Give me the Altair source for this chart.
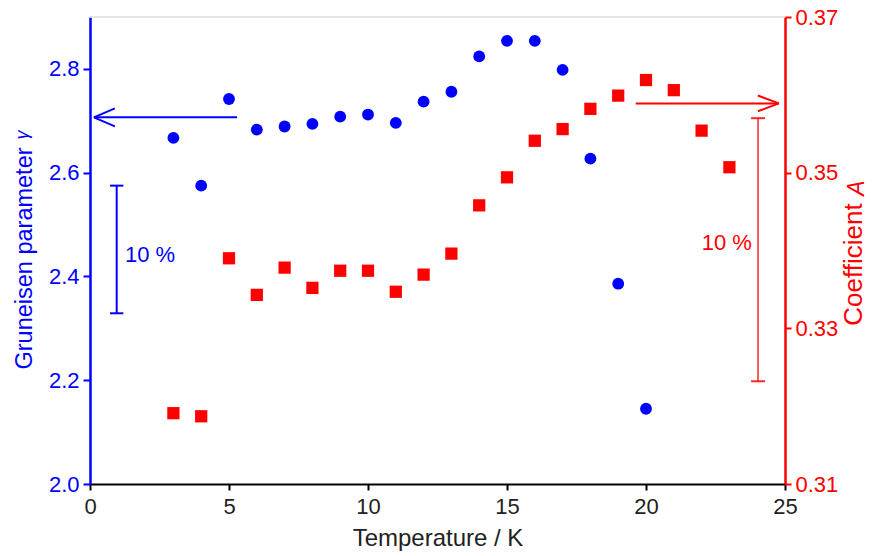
import altair as alt
import pandas as pd

# ---- data ----
temp_gamma = [3, 4, 5, 6, 7, 8, 9, 10, 11, 12, 13, 14, 15, 16, 17, 18, 19, 20]
gamma = [2.667, 2.575, 2.742, 2.683, 2.689, 2.694, 2.708, 2.712, 2.696, 2.737,
         2.756, 2.824, 2.854, 2.854, 2.798, 2.627, 2.386, 2.145]
temp_A = [3, 4, 5, 6, 7, 8, 9, 10, 11, 12, 13, 14, 15, 16, 17, 18, 19, 20, 21, 22, 23]
coef_A = [0.3191, 0.3187, 0.3390, 0.3343, 0.3378, 0.3352, 0.3374, 0.3374, 0.3347,
          0.3369, 0.3396, 0.3458, 0.3494, 0.3541, 0.3556, 0.3582, 0.3599, 0.3619,
          0.3606, 0.3554, 0.3507]

x_ticks = [0, 5, 10, 15, 20, 25]
gamma_ticks = [2.0, 2.2, 2.4, 2.6, 2.8]
A_ticks = [0.31, 0.33, 0.35, 0.37]

# annotations (data units)
blue_arrow = {"x_from": [5.29], "x_to": [0.14], "y": [2.7067]}
red_arrow = {"x_from": [19.63], "x_to": [24.78], "y": [0.3589]}
blue_bar = {"x": [0.96], "half": [0.24], "y_lo": [2.329], "y_hi": [2.575]}
red_bar = {"x": [24.03], "half": [0.25], "y_lo": [0.3232], "y_hi": [0.3570]}
blue_label = {"x": [1.26], "y": [2.441], "text": ["10 %"]}
red_label = {"x": [23.81], "y": [0.3410], "text": ["10 %"]}

BLUE = "#0000ff"
RED = "#ff0000"
FONT = "Liberation Sans"
FS = 22      # tick labels / annotations
FT = 24      # axis titles

xscale = alt.Scale(domain=[0, 25], nice=False, zero=False)
gscale = alt.Scale(domain=[2.0, 2.9], nice=False, zero=False)
ascale = alt.Scale(domain=[0.31, 0.37], nice=False, zero=False)

x_axis = alt.Axis(values=x_ticks, title="Temperature / K", grid=False,
                  domainColor="black", domainWidth=2, tickColor="black", tickWidth=2,
                  tickSize=6, labelColor="#222", titleColor="#222", labelFlush=False,
                  labelPadding=6, titlePadding=9, labelFontSize=FS, titleFontSize=FT,
                  labelFont=FONT, titleFont=FONT, titleFontWeight="normal")
g_axis = alt.Axis(values=gamma_ticks, format=".1f", title="Gruneisen parameter",
                  orient="left", grid=False, domainColor=BLUE, domainWidth=2.5,
                  tickColor=BLUE, tickWidth=2, tickSize=7, labelColor=BLUE,
                  titleColor=BLUE, labelPadding=4, titlePadding=12, titleY=241,
                  labelFontSize=FS, titleFontSize=23.5, labelFont=FONT, titleFont=FONT,
                  titleFontWeight="normal", labelFlush=False)
a_axis = alt.Axis(values=A_ticks, format=".2f", title="Coefficient",
                  orient="right", grid=False, domainColor=RED, domainWidth=2.5,
                  tickColor=RED, tickWidth=2, tickSize=6, labelColor=RED,
                  titleColor=RED, labelPadding=4, titlePadding=3, titleAngle=270,
                  titleBaseline="top", titleY=247, labelFlush=False,
                  labelFontSize=FS, titleFontSize=26, labelFont=FONT, titleFont=FONT,
                  titleFontWeight="normal")


def X(field):
    return alt.X(field, type="quantitative", scale=xscale, axis=x_axis)


def YG(field):
    return alt.Y(field, type="quantitative", scale=gscale, axis=g_axis)


def YA(field):
    return alt.Y(field, type="quantitative", scale=ascale, axis=a_axis)


df_g = pd.DataFrame({"T": temp_gamma, "g": gamma})
df_a = pd.DataFrame({"T": temp_A, "a": coef_A})

# ---- blue group (left axis) ----
g_points = alt.Chart(df_g).mark_point(filled=True, shape="circle", size=140,
                                      color=BLUE, opacity=1).encode(
    x=X("T"), y=YG("g"))

ba = pd.DataFrame(blue_arrow)
g_arrow_shaft = alt.Chart(ba).mark_rule(color=BLUE, strokeWidth=2).encode(
    x=X("x_from"), x2="x_to:Q", y=YG("y"))
g_arrow_head = alt.Chart(ba).mark_point(
    shape="M0,0 L2,-0.857 M0,0 L2,0.857", size=441, filled=False,
    color=BLUE, strokeWidth=2, opacity=1).encode(x=X("x_to"), y=YG("y"))

bb = pd.DataFrame(blue_bar)
bb["xl"] = bb["x"] - bb["half"]
bb["xr"] = bb["x"] + bb["half"]
g_bar = alt.Chart(bb).mark_rule(color=BLUE, strokeWidth=2).encode(
    x=X("x"), y=YG("y_lo"), y2="y_hi:Q")
g_cap_lo = alt.Chart(bb).mark_rule(color=BLUE, strokeWidth=2).encode(
    x=X("xl"), x2="xr:Q", y=YG("y_lo"))
g_cap_hi = alt.Chart(bb).mark_rule(color=BLUE, strokeWidth=2).encode(
    x=X("xl"), x2="xr:Q", y=YG("y_hi"))
g_text = alt.Chart(pd.DataFrame(blue_label)).mark_text(
    align="left", baseline="middle", color=BLUE, font=FONT, fontSize=FS).encode(
    x=X("x"), y=YG("y"), text="text:N")

blue_group = alt.layer(g_points, g_arrow_shaft, g_arrow_head, g_bar,
                       g_cap_lo, g_cap_hi, g_text)

# ---- red group (right axis) ----
a_points = alt.Chart(df_a).mark_point(filled=True, shape="square", size=150,
                                      color=RED, opacity=1).encode(
    x=X("T"), y=YA("a"))

ra = pd.DataFrame(red_arrow)
a_arrow_shaft = alt.Chart(ra).mark_rule(color=RED, strokeWidth=2).encode(
    x=X("x_from"), x2="x_to:Q", y=YA("y"))
a_arrow_head = alt.Chart(ra).mark_point(
    shape="M0,0 L-2,-0.75 M0,0 L-2,0.75", size=441, filled=False,
    color=RED, strokeWidth=2, opacity=1).encode(x=X("x_to"), y=YA("y"))

rb = pd.DataFrame(red_bar)
rb["xl"] = rb["x"] - rb["half"]
rb["xr"] = rb["x"] + rb["half"]
a_bar = alt.Chart(rb).mark_rule(color=RED, strokeWidth=1.5, opacity=0.85).encode(
    x=X("x"), y=YA("y_lo"), y2="y_hi:Q")
a_cap_lo = alt.Chart(rb).mark_rule(color=RED, strokeWidth=2, opacity=0.85).encode(
    x=X("xl"), x2="xr:Q", y=YA("y_lo"))
a_cap_hi = alt.Chart(rb).mark_rule(color=RED, strokeWidth=2, opacity=0.85).encode(
    x=X("xl"), x2="xr:Q", y=YA("y_hi"))
a_text = alt.Chart(pd.DataFrame(red_label)).mark_text(
    align="right", baseline="middle", color=RED, font=FONT, fontSize=FS).encode(
    x=X("x"), y=YA("y"), text="text:N")

red_group = alt.layer(a_points, a_arrow_shaft, a_arrow_head, a_bar,
                      a_cap_lo, a_cap_hi, a_text)

top_line = alt.Chart(pd.DataFrame({"k": [0]})).mark_rule(
    color="#dddddd", strokeWidth=1.5).encode(
    x=alt.value(0), x2=alt.value(695), y=alt.value(0))

# italic symbols that finish the two axis titles
gamma_sym = alt.Chart(pd.DataFrame({"s": ["γ"]})).mark_text(
    angle=270, align="center", baseline="middle", fontStyle="italic",
    font=FONT, fontSize=18, color=BLUE).encode(
    x=alt.value(-67), y=alt.value(118), text="s:N")
A_sym = alt.Chart(pd.DataFrame({"s": ["A"]})).mark_text(
    angle=270, align="center", baseline="middle", fontStyle="italic",
    font=FONT, fontSize=23, color=RED).encode(
    x=alt.value(767), y=alt.value(171), text="s:N")

chart = alt.layer(blue_group, red_group, top_line, gamma_sym, A_sym).resolve_scale(
    y="independent"
).properties(
    width=695, height=467,
    autosize=alt.AutoSizeParams(type="none"),
    padding={"left": 90, "top": 17, "right": 87, "bottom": 72},
    background="white",
).configure_view(stroke=None)

chart.save("out.html", embed_options={"renderer": "svg", "actions": False})
